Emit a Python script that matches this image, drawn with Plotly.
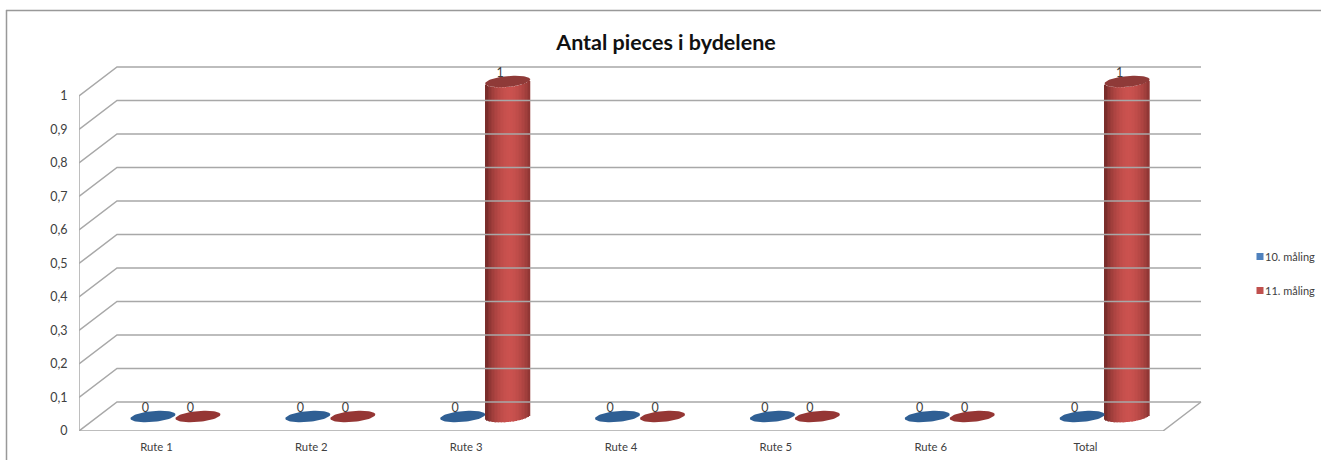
import math
import plotly.graph_objects as go

# ---- data
categories = ["Rute 1", "Rute 2", "Rute 3", "Rute 4", "Rute 5", "Rute 6", "Total"]
maling_10 = [0, 0, 0, 0, 0, 0, 0]
maling_11 = [0, 0, 1, 0, 0, 0, 1]
series_names = ["10. måling", "11. måling"]
y_ticks = [0, 0.1, 0.2, 0.3, 0.4, 0.5, 0.6, 0.7, 0.8, 0.9, 1]
y_tick_labels = ["0", "0,1", "0,2", "0,3", "0,4", "0,5", "0,6", "0,7", "0,8", "0,9", "1"]

# ---- geometry (pixels)
W, H = 1321, 460
L, BACK_R, T, B = 79, 1201, 40, 431     # plot box left/top/bottom, back wall right end
FRONT_R = 1163                          # end of the front floor edge
CAT_PX = (FRONT_R - L) / len(categories)
UNIT_PX = 335                           # one y-unit
DX, DY = 38 / CAT_PX, 29 / UNIT_PX      # depth vector, data units
MIDX, MIDY = DX / 2, DY / 2
BAR_W = 45 / CAT_PX
ELL_B = 5.5 / UNIT_PX
TILT = 2.0 / UNIT_PX                    # rise across half width
GRID = "#a8a8a8"
FONT = "Lato, Carlito, 'Open Sans', sans-serif"
LEGEND_SHIFT = 30                       # legend laid out left of its place so it adds no margin

x_max = (W - L) / CAT_PX
x_back = (BACK_R - L) / CAT_PX
x_front = (FRONT_R - L) / CAT_PX
y_max = (B - T) / UNIT_PX

fig = go.Figure()

# ---- walls and floor, from the y ticks
gx, gy = [], []
for t in y_ticks:
    gx += [0, DX, x_back, None]
    gy += [t, t + DY, t + DY, None]
gx += [0, 0, None, 0, x_front, x_back, None]
gy += [0, 1, None, 0, 0, DY, None]
fig.add_trace(go.Scatter(x=gx, y=gy, mode="lines", line=dict(color=GRID, width=1.5),
                         hoverinfo="skip", showlegend=False, cliponaxis=False))

palette = [
    dict(dark=(70, 108, 150), light=(79, 129, 189), cap="#2f5f94", floor="#2f5f94"),
    dict(dark=(122, 45, 43), light=(203, 82, 79), cap="#8f3a38", floor="#953634"),
]


def shade(u, c):
    # u in [-1, 1]; light band just right of centre, dark at both edges
    k = max(0.0, 1 - abs(u - 0.1) ** 1.7) ** 0.8
    return "rgb(%d,%d,%d)" % tuple(c["dark"][i] + (c["light"][i] - c["dark"][i]) * k for i in range(3))


N = 30
for s, values in enumerate([maling_10, maling_11]):
    side = -1 if s == 0 else 1
    c = palette[s]
    for i, v in enumerate(values):
        cx = i + 0.5 + MIDX + side * BAR_W / 2
        cy = MIDY
        if v > 0:
            xs, bases, heights, colors, widths = [], [], [], [], []
            for k in range(N):
                u = -1 + (k + 0.5) * 2 / N
                off = ELL_B * math.sqrt(max(0, 1 - u * u))
                xs.append(cx + u * BAR_W / 2)
                bases.append(cy - off + TILT * u)
                heights.append(v)
                colors.append(shade(u, c))
                widths.append(BAR_W / N * 1.15)
            fig.add_trace(go.Bar(x=xs, y=heights, base=bases, width=widths,
                                 marker=dict(color=colors, line=dict(width=0)),
                                 hoverinfo="skip", showlegend=False))
        ex, ey = [], []
        for k in range(73):
            a = 2 * math.pi * k / 72
            u = math.cos(a)
            ex.append(cx + u * BAR_W / 2)
            ey.append(cy + v + ELL_B * math.sin(a) + TILT * u)
        fig.add_trace(go.Scatter(x=ex, y=ey, mode="lines", fill="toself",
                                 fillcolor=c["cap"] if v > 0 else c["floor"],
                                 line=dict(width=0), hoverinfo="skip", showlegend=False))

# ---- data labels
for s, values in enumerate([maling_10, maling_11]):
    side = -1 if s == 0 else 1
    fig.add_trace(go.Scatter(
        x=[i + 0.5 + MIDX + side * BAR_W / 2 - 7.5 / CAT_PX for i in range(len(values))],
        y=[v + MIDY + 7.5 / UNIT_PX for v in values],
        text=[str(v) for v in values], mode="text", textposition="middle center",
        textfont=dict(family=FONT, size=12.5, color="#404040"),
        hoverinfo="skip", showlegend=False, cliponaxis=False))

# ---- legend entries
for s, name in enumerate(series_names):
    fig.add_trace(go.Scatter(x=[None], y=[None], mode="markers", name=name, legendgroup=name,
                             marker=dict(symbol="square", size=7, color=["#4f81bd", "#c0504d"][s])))

px = lambda p: (p - L) / (W - L)
py = lambda p: (B - p) / (B - T)
fig.update_layout(
    width=W, height=H, autosize=False,
    margin=dict(l=L, r=0, t=T, b=H - B),
    paper_bgcolor="white", plot_bgcolor="rgba(0,0,0,0)",
    barmode="overlay",
    title=dict(text="<b>Antal pieces i bydelene</b>", x=666 / W, xanchor="center", y=1 - 42 / H,
               yanchor="middle", font=dict(family=FONT, size=21.5, color="#111111")),
    xaxis=dict(range=[0, x_max], tickvals=[i + 0.5 for i in range(len(categories))], ticktext=categories,
               showgrid=False, zeroline=False, showline=False, ticks="outside", ticklen=5,
               tickcolor="rgba(0,0,0,0)", tickfont=dict(family=FONT, size=11.3, color="#404040")),
    yaxis=dict(range=[0, y_max], tickvals=y_ticks, ticktext=y_tick_labels,
               showgrid=False, zeroline=False, showline=False, ticks="outside", ticklen=8,
               tickcolor="rgba(0,0,0,0)", tickfont=dict(family=FONT, size=12.5, color="#404040")),
    legend=dict(x=px(1240 - LEGEND_SHIFT), y=py(242), xanchor="left", yanchor="top", tracegroupgap=15,
                font=dict(family=FONT, size=11, color="#404040"), bgcolor="rgba(0,0,0,0)",
                itemwidth=30),
    shapes=[
        dict(type="line", xref="paper", yref="paper", x0=px(6), x1=px(W), y0=py(10.5), y1=py(10.5),
             line=dict(color="#999999", width=1.5), layer="below"),
        dict(type="line", xref="paper", yref="paper", x0=px(6.5), x1=px(6.5), y0=py(10), y1=py(H),
             line=dict(color="#999999", width=1.5), layer="below"),
    ],
)
post = """
document.body.style.margin='0';document.body.style.overflow='hidden';
document.querySelectorAll('.legendtext').forEach(function(t){
  t.setAttribute('x', parseFloat(t.getAttribute('x')) - 15);
});
var lg = document.querySelector('.legend');
var m = /translate\\(([-\\d.]+)[ ,]+([-\\d.]+)\\)/.exec(lg.getAttribute('transform'));
lg.setAttribute('transform', 'translate(' + (parseFloat(m[1]) + %d) + ',' + m[2] + ')');
""" % LEGEND_SHIFT
fig.write_html("out.html", config=dict(displayModeBar=False), post_script=post)
